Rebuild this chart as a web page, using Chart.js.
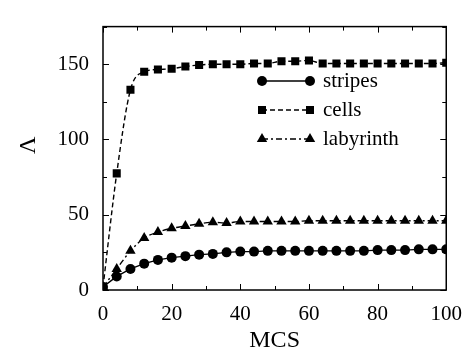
<!DOCTYPE html>
<html>
<head>
<meta charset="utf-8">
<script src="https://cdn.jsdelivr.net/npm/chart.js@4/dist/chart.umd.min.js"></script>
<style>
html,body{margin:0;padding:0;background:#fff;}
#wrap{width:474px;height:352px;}
</style>
</head>
<body>
<div id="wrap"><canvas id="c" width="474" height="352"></canvas></div>
<script>
const mcs = [0,4,8,12,16,20,24,28,32,36,40,44,48,52,56,60,64,68,72,76,80,84,88,92,96,100];
const stripes = [2,9,14,17.5,20,21.5,22.5,23.5,24,25,25.5,25.5,26,26,26,26,26,26,26,26,26.5,26.5,26.5,27,27,27];
const cells = [2,77.5,133,145,146.5,147,148.5,149.5,150,150,150,150.5,150.5,152,152,152.5,150.5,150.5,150.5,150.5,150.5,150.5,150.5,150.5,150.5,151];
const labyrinth = [2,14,26,34.5,38.5,41,42.5,44,45,44.5,45.5,45.5,45.5,45.5,45.5,46,46,46,46,46,46,46,46,46,46,46];
const seriesNames = ['stripes','cells','labyrinth'];
const xTickLabels = [0,20,40,60,80,100];
const yTickLabels = [0,50,100,150];
const xTitle = 'MCS';
const yTitle = 'Λ';

const serif = "'Liberation Serif'";

function pts(arr){ return arr.map((v,i)=>({x:mcs[i], y:v})); }

const framePlugin = {
  id:'frame',
  afterDraw(chart){
    const {ctx, chartArea:a, scales} = chart;
    ctx.save();
    ctx.strokeStyle='#000';
    ctx.lineWidth=1.5;
    ctx.strokeRect(a.left, a.top, a.right-a.left, a.bottom-a.top);
    ctx.lineWidth=1;
    ctx.beginPath();
    for(let v=0; v<=100; v+=10){
      const x=Math.round(scales.x.getPixelForValue(v))+0.5;
      const L = (v%20===0)?6:4;
      ctx.moveTo(x,a.bottom); ctx.lineTo(x,a.bottom-L);
      ctx.moveTo(x,a.top); ctx.lineTo(x,a.top+L);
    }
    for(let v=0; v<=175; v+=25){
      const y=Math.round(scales.y.getPixelForValue(v))+0.5;
      const L = (v%50===0)?6:4;
      ctx.moveTo(a.left,y); ctx.lineTo(a.left+L,y);
      ctx.moveTo(a.right,y); ctx.lineTo(a.right-L,y);
    }
    ctx.stroke();
    // y title
    ctx.save();
    ctx.translate(29, (a.top+a.bottom)/2-13);
    ctx.rotate(-Math.PI/2);
    ctx.font="24px "+serif;
    ctx.fillStyle='#000';
    ctx.textAlign='center';
    ctx.textBaseline='middle';
    ctx.fillText(yTitle,0,0);
    ctx.restore();
    // legend
    const lx0=262, lx1=310, ly0=81, dy=29;
    chart.data.datasets.forEach((ds,i)=>{
      const y=ly0+i*dy;
      ctx.save();
      ctx.strokeStyle='#000';
      ctx.lineWidth=ds.borderWidth;
      ctx.setLineDash(ds.borderDash||[]);
      ctx.beginPath(); ctx.moveTo(lx0,y); ctx.lineTo(lx1,y); ctx.stroke();
      ctx.setLineDash([]);
      const o={pointStyle:ds.pointStyle, radius:ds.pointRadius, rotation:0, borderWidth:0};
      ctx.fillStyle='#000';
      Chart.helpers.drawPoint(ctx,o,lx0,y);
      Chart.helpers.drawPoint(ctx,o,lx1,y);
      ctx.font="21px "+serif;
      ctx.textBaseline='middle';
      ctx.fillStyle='#000';
      ctx.fillText(ds.label, 323, y);
      ctx.restore();
    });
    ctx.restore();
  }
};

new Chart(document.getElementById('c'),{
  type:'line',
  data:{datasets:[
    {label:seriesNames[0], data:pts(stripes), borderColor:'#000', backgroundColor:'#000', borderWidth:1.4, pointStyle:'circle', pointRadius:5, pointBorderWidth:0, borderDash:[]},
    {label:seriesNames[1], data:pts(cells), borderColor:'#000', backgroundColor:'#000', borderWidth:1.4, pointStyle:'rect', pointRadius:5.7, pointBorderWidth:0, borderDash:[5,3], cubicInterpolationMode:'monotone'},
    {label:seriesNames[2], data:pts(labyrinth), borderColor:'#000', backgroundColor:'#000', borderWidth:1.4, pointStyle:'triangle', pointRadius:6, pointBorderWidth:0, borderDash:[6,3,2,3], cubicInterpolationMode:'monotone'}
  ]},
  options:{
    responsive:false, animation:false,
    layout:{padding:{left:0,right:25,top:10,bottom:0}},
    plugins:{legend:{display:false}, tooltip:{enabled:false}},
    scales:{
      x:{type:'linear', min:0, max:100,
        afterFit(s){ s.height=62; },
        grid:{display:false, drawTicks:false},
        border:{display:false},
        ticks:{stepSize:10, color:'#000', padding:12, maxRotation:0, font:{family:serif,size:21},
          callback:v=> xTickLabels.includes(v)? String(v):''},
        title:{display:true, text:xTitle, color:'#000', font:{family:serif,size:24,lineHeight:0.95}, padding:{top:4,bottom:0}}
      },
      y:{type:'linear', min:0, max:175,
        afterFit(s){ s.width=103; },
        grid:{display:false, drawTicks:false},
        border:{display:false},
        ticks:{stepSize:25, color:'#000', padding:14, font:{family:serif,size:21},
          callback:v=> yTickLabels.includes(v)? String(v):''},
        title:{display:false}
      }
    }
  },
  plugins:[framePlugin]
});
</script>
</body>
</html>
